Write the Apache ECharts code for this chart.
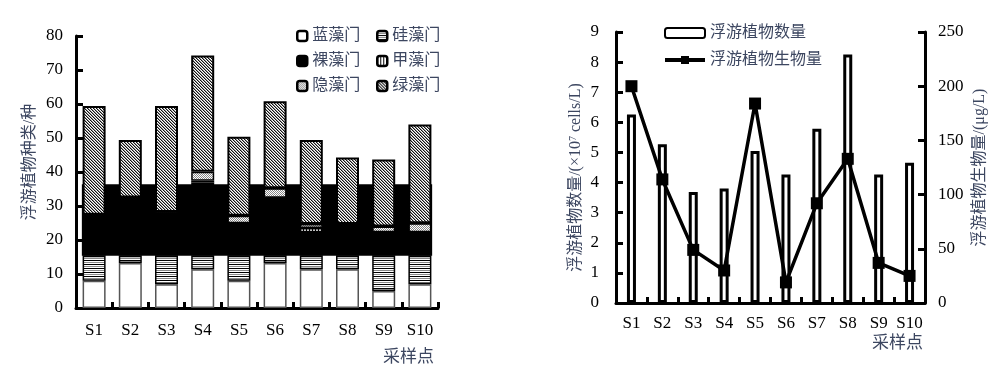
<!DOCTYPE html>
<html><head><meta charset="utf-8">
<script src="https://cdn.jsdelivr.net/npm/echarts@6/dist/echarts.min.js"></script>
<style>html,body{margin:0;padding:0;background:#fff}#c{width:999px;height:380px}</style>
</head><body><div id="c"></div>
<script>
// ---- data ----
const sites = ['S1','S2','S3','S4','S5','S6','S7','S8','S9','S10'];
// species counts per phylum (stacked)
const cyano   = [8, 13.2, 7, 11.4, 8, 13.2, 11.4, 11.4, 5, 7];        // 蓝藻门
const diatom  = [7.4, 2.2, 8.4, 4, 7.4, 2.2, 4, 4, 10.4, 8.4];        // 硅藻门
const eugleno = [11, 17.1, 11.8, 21.5, 9, 17, 6.9, 9.3, 6.9, 6.9];    // 裸藻门
const pyrro   = [0.5, 0, 0.4, 0.5, 0.5, 0, 1.2, 0, 0, 0];             // 甲藻门
const crypto  = [0.5, 0, 0.6, 2.7, 2.2, 2.8, 1.2, 0, 1.7, 2.6];       // 隐藻门
const chloro  = [32, 16.9, 31.2, 34.2, 23.3, 25.6, 24.7, 19.6, 19.7, 29.1]; // 绿藻门
const bandRange = [15.4, 36.4]; // dark band visible across the left plot
// abundance (×10^7 cells/L) and biomass (μg/L)
const abundance = [6.26, 5.27, 3.69, 3.80, 5.05, 4.27, 5.79, 8.25, 4.27, 4.66];
const biomass   = [200, 114, 49, 30, 184, 19, 92, 133, 37, 25];

// ---- patterns ----
function pat(w, h, draw) {
  const cv = document.createElement('canvas');
  cv.width = w; cv.height = h;
  const ctx = cv.getContext('2d');
  ctx.fillStyle = '#fff'; ctx.fillRect(0, 0, w, h);
  draw(ctx);
  return { image: cv, repeat: 'repeat' };
}
const pHoriz = pat(4, 4, c => { c.fillStyle = '#000'; c.fillRect(0, 0, 4, 1); c.fillStyle = '#888'; c.fillRect(0, 2, 4, 1); });
const pVert = pat(3, 1, c => { c.fillStyle = '#000'; c.fillRect(0, 0, 1, 1); });
const pDots = pat(2, 2, c => { c.fillStyle = '#888'; c.fillRect(0, 0, 1, 1); c.fillRect(1, 1, 1, 1); });
const pHatch = pat(3, 3, c => { for (let i = 0; i < 3; i++) { c.fillStyle = '#111'; c.fillRect(i, i, 1, 1); c.fillStyle = '#999'; c.fillRect((i + 1) % 3, i, 1, 1); } });

const SERIF = "'Liberation Serif', 'Noto Sans CJK SC', serif";
const TXT = '#3c4660';
const nz = a => a.map(v => v === 0 ? '-' : v);
const BW = 23;

const chart = echarts.init(document.getElementById('c'), null, { renderer: 'canvas' });

function stackBar(name, data, color, bc, bw) {
  return {
    name, type: 'bar', stack: 'sp', xAxisIndex: 0, yAxisIndex: 0, barWidth: BW, z: 3,
    data: nz(data),
    itemStyle: { color, borderColor: bc || '#000', borderWidth: bw || 1.5 }
  };
}

const axisLineS = { show: true, lineStyle: { color: '#000', width: 3 } };
const tickS = { show: true, inside: true, length: 6, lineStyle: { color: '#000', width: 3 } };
const labelS = { color: '#000', fontFamily: SERIF, fontSize: 17 };

chart.setOption({
  animation: false,
  backgroundColor: '#fff',
  title: [
    { text: '采样点', left: 378, top: 344, textStyle: { color: TXT, fontFamily: SERIF, fontSize: 17, fontWeight: 'normal' } },
    { text: '采样点', left: 867, top: 330, textStyle: { color: TXT, fontFamily: SERIF, fontSize: 17, fontWeight: 'normal' } }
  ],
  grid: [
    { left: 76, top: 36, width: 362, height: 272 },
    { left: 616, top: 32, width: 309, height: 271 }
  ],
  legend: [
    { orient: 'vertical', left: 291, top: 23, itemWidth: 10, itemHeight: 10, itemGap: 9,
      data: ['蓝藻门', '裸藻门', '隐藻门'],
      itemStyle: { borderColor: '#000', borderWidth: 2.5 },
      textStyle: { color: TXT, fontFamily: SERIF, fontSize: 16 } },
    { orient: 'vertical', left: 371, top: 23, itemWidth: 10, itemHeight: 10, itemGap: 9,
      data: ['硅藻门', '甲藻门', '绿藻门'],
      itemStyle: { borderColor: '#000', borderWidth: 2.5 },
      textStyle: { color: TXT, fontFamily: SERIF, fontSize: 16 } },
    { orient: 'vertical', left: 658, top: 20, itemWidth: 40, itemHeight: 10, itemGap: 11,
      data: ['浮游植物数量', '浮游植物生物量'],
      lineStyle: { width: 4, color: '#000' },
      textStyle: { color: TXT, fontFamily: SERIF, fontSize: 16 } }
  ],
  xAxis: [
    { type: 'category', gridIndex: 0, data: sites, axisLine: axisLineS, axisTick: tickS,
      axisLabel: Object.assign({ margin: 14, interval: 0 }, labelS), splitLine: { show: false } },
    { type: 'category', gridIndex: 1, data: sites, axisLine: axisLineS, axisTick: tickS,
      axisLabel: Object.assign({ margin: 12, interval: 0 }, labelS), splitLine: { show: false } }
  ],
  yAxis: [
    { type: 'value', gridIndex: 0, min: 0, max: 80, interval: 10,
      name: '浮游植物种类/种', nameLocation: 'middle', nameGap: 38, nameRotate: 90,
      nameTextStyle: { color: TXT, fontFamily: SERIF, fontSize: 16, padding: [0, 0, 0, 20] },
      axisLine: axisLineS, axisTick: Object.assign({}, tickS, { length: 7 }),
      axisLabel: Object.assign({ margin: 13 }, labelS), splitLine: { show: false } },
    { type: 'value', gridIndex: 1, min: 0, max: 9, interval: 1,
      name: '浮游植物数量/(×10{sup|7} cells/L)', nameLocation: 'middle', nameGap: 32, nameRotate: 90,
      nameTextStyle: { color: TXT, fontFamily: SERIF, fontSize: 16, padding: [0, 20, 0, 0],
        rich: { sup: { fontSize: 10, verticalAlign: 'top', color: TXT, fontFamily: SERIF, padding: [0, 0, 6, 0] } } },
      axisLine: axisLineS, axisTick: Object.assign({}, tickS, { length: 7 }),
      axisLabel: Object.assign({ margin: 17 }, labelS), splitLine: { show: false } },
    { type: 'value', gridIndex: 1, position: 'right', min: 0, max: 250, interval: 50,
      name: '浮游植物生物量/(μg/L)', nameLocation: 'middle', nameGap: 47, nameRotate: 90,
      nameTextStyle: { color: TXT, fontFamily: SERIF, fontSize: 16 },
      axisLine: axisLineS, axisTick: Object.assign({}, tickS, { length: 7 }),
      axisLabel: Object.assign({ margin: 13 }, labelS), splitLine: { show: false } }
  ],
  series: [
    {
      type: 'custom', name: 'band', xAxisIndex: 0, yAxisIndex: 0, z: 1, silent: true,
      data: [[0, bandRange[0], bandRange[1]]],
      encode: { x: 0, y: [1, 2] },
      renderItem(params, api) {
        const pLow = api.coord([0, api.value(1)]);
        const pHigh = api.coord([sites.length - 1, api.value(2)]);
        const half = BW / 2 + 0.75;
        const x0 = pLow[0] - half, x1 = pHigh[0] + half;
        return { type: 'rect', shape: { x: x0, y: pHigh[1], width: x1 - x0, height: pLow[1] - pHigh[1] },
                 style: { fill: '#000' } };
      }
    },
    stackBar('蓝藻门', cyano, '#fff', '#555'),
    stackBar('硅藻门', diatom, pHoriz),
    stackBar('裸藻门', eugleno, '#000'),
    stackBar('甲藻门', pyrro, pVert),
    stackBar('隐藻门', crypto, pDots),
    stackBar('绿藻门', chloro, pHatch, '#000', 2),
    {
      name: '浮游植物数量', type: 'bar', xAxisIndex: 1, yAxisIndex: 1, barWidth: 9,
      data: abundance,
      itemStyle: { color: '#fff', borderColor: '#000', borderWidth: 3 }
    },
    {
      name: '浮游植物生物量', type: 'line', xAxisIndex: 1, yAxisIndex: 2, z: 5,
      data: biomass, symbol: 'rect', symbolSize: 12,
      lineStyle: { color: '#000', width: 3.5 }, itemStyle: { color: '#000' }
    }
  ]
});
</script>
</body></html>
